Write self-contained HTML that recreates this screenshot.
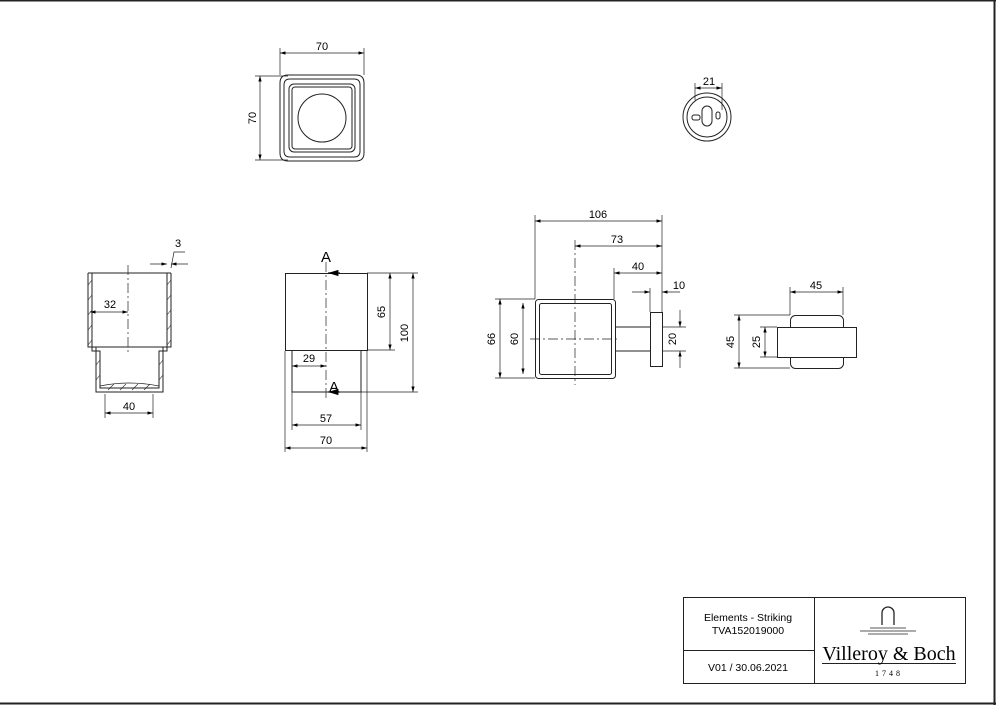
<!DOCTYPE html>
<html><head><meta charset="utf-8"><style>
html,body{margin:0;padding:0;background:#fff}
svg{display:block}
text{font-family:"Liberation Sans",sans-serif;font-size:11px;fill:#000}
</style></head><body>
<svg width="996" height="705" viewBox="0 0 996 705" xmlns="http://www.w3.org/2000/svg">
<defs>
<marker id="a" viewBox="0 0 10 6" refX="10" refY="3" markerWidth="8" markerHeight="5" orient="auto-start-reverse"><path d="M0,0L10,3L0,6z" fill="#000"/></marker>
</defs>
<g fill="none" stroke="#222" stroke-width="1">
<line x1="0" y1="0.5" x2="996" y2="0.5" stroke-width="2"/>
<line x1="994.5" y1="0" x2="994.5" y2="705" stroke-width="2"/>
<line x1="0" y1="703.5" x2="996" y2="703.5" stroke-width="2"/>
<rect x="683.5" y="597.5" width="282" height="86"/>
<line x1="814.5" y1="597" x2="814.5" y2="684"/>
<line x1="683" y1="650.5" x2="814" y2="650.5"/>
<line x1="822" y1="663.5" x2="956" y2="663.5"/>
<path d="M882,625 v-12 a6,6 0 0 1 12,0 v12" stroke-width="1.3"/>
<path d="M870,628 h36 M860,631 h56 M868,634 h40" stroke-width="0.8"/>

<path d="M288,75 h68 q8,0 8,8 v70 q0,8 -8,8 h-68 q-8,0 -8,-8 v-70 q0,-8 8,-8z"/>
<path d="M290,79 h64 q6,0 6,6 v66 q0,6 -6,6 h-64 q-6,0 -6,-6 v-66 q0,-6 6,-6z"/>
<rect x="289" y="84" width="66" height="68" rx="5"/>
<rect x="292" y="87" width="60" height="62" rx="3"/>
<circle cx="322" cy="118" r="24"/>
<line x1="280" y1="48" x2="280" y2="75" stroke-width="0.7"/>
<line x1="364" y1="48" x2="364" y2="75" stroke-width="0.7"/>
<line x1="280" y1="53" x2="364" y2="53" stroke-width="0.7" marker-start="url(#a)" marker-end="url(#a)"/>
<line x1="255" y1="76" x2="288" y2="76" stroke-width="0.7"/>
<line x1="255" y1="160" x2="288" y2="160" stroke-width="0.7"/>
<line x1="260" y1="76" x2="260" y2="160" stroke-width="0.7" marker-start="url(#a)" marker-end="url(#a)"/>

<circle cx="707" cy="117" r="24"/>
<circle cx="707" cy="117" r="20"/>
<rect x="702" y="106" width="10" height="20" rx="5"/>
<rect x="716" y="112" width="4" height="7" rx="2"/>
<rect x="692" y="115" width="8" height="5" rx="2"/>
<line x1="695" y1="83" x2="695" y2="100" stroke-width="0.7"/>
<line x1="722" y1="83" x2="722" y2="110" stroke-width="0.7"/>
<line x1="695" y1="88" x2="722" y2="88" stroke-width="0.7" marker-start="url(#a)" marker-end="url(#a)"/>

<path d="M88,273 V347 H96 V392 H163 V347 H171 V273"/>
<path d="M92,273 V351 H100 V388 H159 V351 H167 V273"/>
<line x1="88" y1="273" x2="171" y2="273"/>
<path d="M100,386 Q129,380 159,386" stroke-width="0.8"/>
<g stroke-width="0.6"><path d="M88,285l4,-5M88,300l4,-5M88,315l4,-5M88,330l4,-5M88,345l4,-5M167,285l4,-5M167,300l4,-5M167,315l4,-5M167,330l4,-5M167,345l4,-5M96,365l4,-5M96,380l4,-5M159,365l4,-5M159,380l4,-5M108,390l6,-6M120,390l6,-6M132,390l6,-6M144,390l6,-6"/></g>
<line x1="92" y1="347" x2="167" y2="347"/>
<line x1="128" y1="265" x2="128" y2="355" stroke-dasharray="10,3,2,3" stroke-width="0.7"/>
<line x1="90" y1="312" x2="128" y2="312" stroke-width="0.7" marker-start="url(#a)" marker-end="url(#a)"/>
<line x1="105" y1="394" x2="105" y2="418" stroke-width="0.7"/>
<line x1="153" y1="394" x2="153" y2="418" stroke-width="0.7"/>
<line x1="105" y1="413" x2="153" y2="413" stroke-width="0.7" marker-start="url(#a)" marker-end="url(#a)"/>
<line x1="150" y1="264" x2="167" y2="264" stroke-width="0.7" marker-end="url(#a)"/>
<line x1="188" y1="264" x2="171" y2="264" stroke-width="0.7" marker-end="url(#a)"/>
<path d="M171,268 L174,252 H185" stroke-width="0.7"/>

<rect x="285.5" y="273.5" width="82" height="77"/>
<path d="M292,351 V392 H361 V351"/>
<line x1="326" y1="262" x2="326" y2="400" stroke-dasharray="10,3,2,3" stroke-width="0.7"/>
<line x1="340" y1="273" x2="328" y2="273" stroke-width="1.3" marker-end="url(#a)"/>
<line x1="340" y1="392" x2="328" y2="392" stroke-width="1.3" marker-end="url(#a)"/>
<line x1="367" y1="273" x2="418" y2="273" stroke-width="0.7"/>
<line x1="367" y1="350" x2="395" y2="350" stroke-width="0.7"/>
<line x1="361" y1="392" x2="418" y2="392" stroke-width="0.7"/>
<line x1="390" y1="273" x2="390" y2="350" stroke-width="0.7" marker-start="url(#a)" marker-end="url(#a)"/>
<line x1="413" y1="273" x2="413" y2="392" stroke-width="0.7" marker-start="url(#a)" marker-end="url(#a)"/>
<line x1="292" y1="366" x2="326" y2="366" stroke-width="0.7" marker-start="url(#a)" marker-end="url(#a)"/>
<line x1="292" y1="392" x2="292" y2="430" stroke-width="0.7"/>
<line x1="361" y1="392" x2="361" y2="430" stroke-width="0.7"/>
<line x1="285" y1="351" x2="285" y2="452" stroke-width="0.7"/>
<line x1="367" y1="351" x2="367" y2="452" stroke-width="0.7"/>
<line x1="292" y1="425" x2="361" y2="425" stroke-width="0.7" marker-start="url(#a)" marker-end="url(#a)"/>
<line x1="285" y1="448" x2="367" y2="448" stroke-width="0.7" marker-start="url(#a)" marker-end="url(#a)"/>

<rect x="535.5" y="299.5" width="80" height="79" rx="3"/>
<rect x="539.5" y="303.5" width="72" height="71" rx="2"/>
<path d="M615,327 H650 M615,351 H650"/>
<rect x="650.5" y="312.5" width="12" height="54"/>
<line x1="530" y1="339" x2="620" y2="339" stroke-dasharray="10,3,2,3" stroke-width="0.7"/>
<line x1="575" y1="240" x2="575" y2="385" stroke-dasharray="10,3,2,3" stroke-width="0.7"/>
<line x1="535" y1="215" x2="535" y2="299" stroke-width="0.7"/>
<line x1="662" y1="215" x2="662" y2="312" stroke-width="0.7"/>
<line x1="614" y1="268" x2="614" y2="299" stroke-width="0.7"/>
<line x1="650" y1="288" x2="650" y2="312" stroke-width="0.7"/>
<line x1="535" y1="221" x2="662" y2="221" stroke-width="0.7" marker-start="url(#a)" marker-end="url(#a)"/>
<line x1="575" y1="246" x2="662" y2="246" stroke-width="0.7" marker-start="url(#a)" marker-end="url(#a)"/>
<line x1="614" y1="273" x2="662" y2="273" stroke-width="0.7" marker-start="url(#a)" marker-end="url(#a)"/>
<line x1="632" y1="292" x2="650" y2="292" stroke-width="0.7" marker-end="url(#a)"/>
<line x1="680" y1="292" x2="662" y2="292" stroke-width="0.7" marker-end="url(#a)"/>
<line x1="495" y1="299" x2="535" y2="299" stroke-width="0.7"/>
<line x1="495" y1="378" x2="535" y2="378" stroke-width="0.7"/>
<line x1="500" y1="299" x2="500" y2="378" stroke-width="0.7" marker-start="url(#a)" marker-end="url(#a)"/>
<line x1="523" y1="303" x2="523" y2="374" stroke-width="0.7" marker-start="url(#a)" marker-end="url(#a)"/>
<line x1="662" y1="327" x2="686" y2="327" stroke-width="0.7"/>
<line x1="662" y1="351" x2="686" y2="351" stroke-width="0.7"/>
<line x1="680" y1="310" x2="680" y2="327" stroke-width="0.7" marker-end="url(#a)"/>
<line x1="680" y1="368" x2="680" y2="351" stroke-width="0.7" marker-end="url(#a)"/>

<rect x="790.5" y="315.5" width="53" height="53" rx="5"/>
<rect x="777.5" y="327.5" width="79" height="30" fill="#fff"/>
<line x1="790" y1="287" x2="790" y2="315" stroke-width="0.7"/>
<line x1="843" y1="287" x2="843" y2="315" stroke-width="0.7"/>
<line x1="790" y1="292" x2="843" y2="292" stroke-width="0.7" marker-start="url(#a)" marker-end="url(#a)"/>
<line x1="734" y1="315" x2="790" y2="315" stroke-width="0.7"/>
<line x1="734" y1="368" x2="790" y2="368" stroke-width="0.7"/>
<line x1="760" y1="327" x2="777" y2="327" stroke-width="0.7"/>
<line x1="760" y1="357" x2="777" y2="357" stroke-width="0.7"/>
<line x1="739" y1="315" x2="739" y2="368" stroke-width="0.7" marker-start="url(#a)" marker-end="url(#a)"/>
<line x1="765" y1="327" x2="765" y2="357" stroke-width="0.7" marker-start="url(#a)" marker-end="url(#a)"/>
</g>

<g text-anchor="middle">
<text x="322" y="50">70</text>
<text x="256" y="118" transform="rotate(-90 256 118)">70</text>
<text x="709" y="85">21</text>
<text x="178" y="247">3</text>
<text x="110" y="308">32</text>
<text x="129" y="410">40</text>
<text x="326" y="262" style="font-size:15px">A</text>
<text x="334" y="392" style="font-size:15px">A</text>
<text x="385" y="312" transform="rotate(-90 385 312)">65</text>
<text x="408" y="333" transform="rotate(-90 408 333)">100</text>
<text x="309" y="362">29</text>
<text x="326" y="422">57</text>
<text x="326" y="444">70</text>
<text x="598" y="218">106</text>
<text x="617" y="243">73</text>
<text x="638" y="270">40</text>
<text x="679" y="289">10</text>
<text x="495" y="339" transform="rotate(-90 495 339)">66</text>
<text x="518" y="339" transform="rotate(-90 518 339)">60</text>
<text x="676" y="339" transform="rotate(-90 676 339)">20</text>
<text x="816" y="289">45</text>
<text x="734" y="342" transform="rotate(-90 734 342)">45</text>
<text x="760" y="342" transform="rotate(-90 760 342)">25</text>
<text x="748" y="621" style="font-size:10.5px">Elements - Striking</text>
<text x="748" y="634" style="font-size:10.5px">TVA152019000</text>
<text x="748" y="671" style="font-size:10.5px">V01 / 30.06.2021</text>
<text x="889" y="660" style="font-family:'Liberation Serif',serif;font-size:20px">Villeroy &amp; Boch</text>
<text x="889" y="676" style="font-family:'Liberation Serif',serif;font-size:8px;letter-spacing:3px">1748</text>
</g>
</svg>
</body></html>
